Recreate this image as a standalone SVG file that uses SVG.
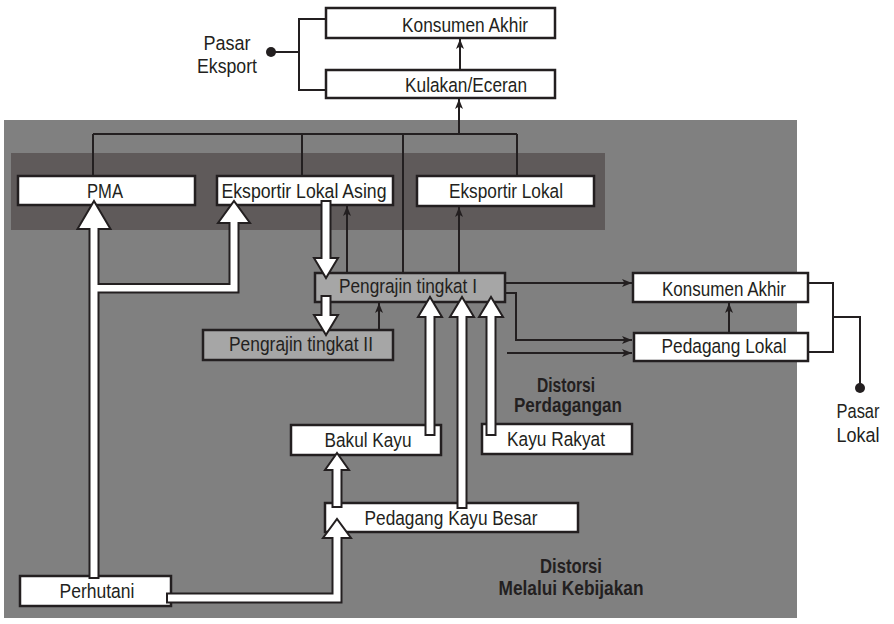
<svg xmlns="http://www.w3.org/2000/svg" width="894" height="624" viewBox="0 0 894 624">
<defs>
<marker id="ah" markerUnits="userSpaceOnUse" markerWidth="12" markerHeight="10" refX="10" refY="4" orient="auto">
<path d="M0,0 L10,4 L0,8 L2.5,4 z" fill="#231f20"/>
</marker>
</defs>
<style>
.box{fill:#fff;stroke:#231f20;stroke-width:2.5}
.gbox{fill:#a6a6a6;stroke:#231f20;stroke-width:2.5}
.t{font-family:"Liberation Sans",Arial,sans-serif;font-size:20.5px;fill:#231f20;text-anchor:middle}
.b{font-family:"Liberation Sans",Arial,sans-serif;font-size:20px;font-weight:bold;fill:#231f20;text-anchor:middle}
.ln{fill:none;stroke:#231f20;stroke-width:2}
.ar{fill:none;stroke:#231f20;stroke-width:2;marker-end:url(#ah)}
.wa{fill:#fff;stroke:#231f20;stroke-width:2;stroke-linejoin:miter}
</style>
<rect x="0" y="0" width="894" height="624" fill="#fff"/>
<rect id="bg" x="4" y="120" width="793" height="498" fill="#808080"/>
<rect id="band" x="11" y="153" width="594" height="77" fill="#5f5a5a"/>

<g id="n-konsumen-top"><rect class="box" x="326" y="8" width="229" height="30"/><text class="t" x="465" y="32" textLength="126" lengthAdjust="spacingAndGlyphs">Konsumen Akhir</text></g>
<g id="n-kulakan"><rect class="box" x="326" y="70" width="229" height="28"/><text class="t" x="466" y="92" textLength="122" lengthAdjust="spacingAndGlyphs">Kulakan/Eceran</text></g>
<g id="n-pasar-eksport"><circle cx="271" cy="52" r="5" fill="#231f20"/><text class="t" x="227" y="50" textLength="47" lengthAdjust="spacingAndGlyphs">Pasar</text><text class="t" x="227" y="73" textLength="60" lengthAdjust="spacingAndGlyphs">Eksport</text></g>
<g id="n-pma"><rect class="box" x="18" y="176" width="177" height="29"/><text class="t" x="105" y="198" textLength="36" lengthAdjust="spacingAndGlyphs">PMA</text></g>
<g id="n-ela"><rect class="box" x="217" y="176" width="176" height="29"/><text class="t" x="304" y="198" textLength="165" lengthAdjust="spacingAndGlyphs">Eksportir Lokal Asing</text></g>
<g id="n-el"><rect class="box" x="417" y="176" width="177" height="30"/><text class="t" x="506" y="198" textLength="114" lengthAdjust="spacingAndGlyphs">Eksportir Lokal</text></g>
<g id="n-p1"><rect class="gbox" x="315" y="273" width="190" height="29"/><text class="t" x="408" y="293" textLength="138" lengthAdjust="spacingAndGlyphs">Pengrajin tingkat I</text></g>
<g id="n-p2"><rect class="gbox" x="203" y="330" width="190" height="30"/><text class="t" x="301" y="351" textLength="144" lengthAdjust="spacingAndGlyphs">Pengrajin tingkat II</text></g>
<g id="n-konsumen-r"><rect class="box" x="633" y="273" width="175" height="29"/><text class="t" x="724" y="296" textLength="124" lengthAdjust="spacingAndGlyphs">Konsumen Akhir</text></g>
<g id="n-pedlokal"><rect class="box" x="634" y="333" width="174" height="28"/><text class="t" x="724" y="353" textLength="125" lengthAdjust="spacingAndGlyphs">Pedagang Lokal</text></g>
<g id="n-pasar-lokal"><circle cx="860" cy="388" r="5" fill="#231f20"/><text class="t" x="858" y="418" textLength="43" lengthAdjust="spacingAndGlyphs">Pasar</text><text class="t" x="858" y="442" textLength="43" lengthAdjust="spacingAndGlyphs">Lokal</text></g>
<g id="n-bakul"><rect class="box" x="291" y="425" width="150" height="30"/><text class="t" x="368" y="447" textLength="87" lengthAdjust="spacingAndGlyphs">Bakul Kayu</text></g>
<g id="n-rakyat"><rect class="box" x="482" y="424" width="150" height="30"/><text class="t" x="556" y="446" textLength="98" lengthAdjust="spacingAndGlyphs">Kayu Rakyat</text></g>
<g id="n-pkb"><rect class="box" x="325" y="503" width="253" height="29"/><text class="t" x="451" y="525" textLength="173" lengthAdjust="spacingAndGlyphs">Pedagang Kayu Besar</text></g>
<g id="n-perhutani"><rect class="box" x="20" y="576" width="151" height="30"/><text class="t" x="97" y="598" textLength="75" lengthAdjust="spacingAndGlyphs">Perhutani</text></g>
<g id="n-dist-perdagangan"><text class="b" x="566" y="392" textLength="58" lengthAdjust="spacingAndGlyphs">Distorsi</text><text class="b" x="568" y="412" textLength="108" lengthAdjust="spacingAndGlyphs">Perdagangan</text></g>
<g id="n-dist-kebijakan"><text class="b" x="571" y="573" textLength="62" lengthAdjust="spacingAndGlyphs">Distorsi</text><text class="b" x="571" y="595" textLength="145" lengthAdjust="spacingAndGlyphs">Melalui Kebijakan</text></g>

<g id="connectors">
<polyline class="ln" points="325,19 299,19 299,90 325,90"/>
<line class="ln" x1="271" y1="52" x2="299" y2="52"/>
<line class="ar" x1="460" y1="69" x2="460" y2="39"/>
<line class="ln" x1="93" y1="134" x2="517" y2="134"/>
<line class="ln" x1="93" y1="134" x2="93" y2="175"/>
<line class="ln" x1="302" y1="134" x2="302" y2="175"/>
<line class="ln" x1="517" y1="134" x2="517" y2="175"/>
<line class="ln" x1="403" y1="134" x2="403" y2="272"/>
<line class="ar" x1="459" y1="134" x2="459" y2="99"/>
<line class="ar" x1="347" y1="272" x2="347" y2="206"/>
<line class="ar" x1="459" y1="272" x2="459" y2="207"/>
<line class="ar" x1="379" y1="329" x2="379" y2="303"/>
<line class="ar" x1="506" y1="283" x2="632" y2="283"/>
<polyline class="ar" points="506,293 516,293 516,340 632,340"/>
<line class="ar" x1="507" y1="353" x2="632" y2="353"/>
<line class="ar" x1="729" y1="332" x2="729" y2="303"/>
<polyline class="ln" points="809,283 833,283 833,352 809,352"/>
<polyline class="ln" points="833,317 860,317 860,388"/>

<polygon class="wa" points="94,201 110.5,229 98.5,229 98.5,284 229.5,284 229.5,223 218,223 234,201 250,223 238.5,223 238.5,292.5 98.5,292.5 98.5,578 89.5,578 89.5,229 77.5,229"/>
<polygon class="wa" points="167,593.5 332.5,593.5 332.5,538 323,538 337,519 351,538 341.5,538 341.5,602.5 167,602.5"/>
<polygon class="wa" points="332.5,507 332.5,470 325,470 337,453 349,470 341.5,470 341.5,507"/>
<polygon class="wa" points="425.5,435 425.5,317 418,317 430,297 442,317 434.5,317 434.5,435"/>
<polygon class="wa" points="457.5,508 457.5,317 450,317 462,297 474,317 466.5,317 466.5,508"/>
<polygon class="wa" points="486.5,435 486.5,317 479,317 491,297 503,317 495.5,317 495.5,435"/>
<polygon class="wa" points="321.5,201 330.5,201 330.5,258 338,258 326,278 314,258 321.5,258"/>
<polygon class="wa" points="321.5,296 330.5,296 330.5,315 338,315 326,335 314,315 321.5,315"/>
</g>
</svg>
